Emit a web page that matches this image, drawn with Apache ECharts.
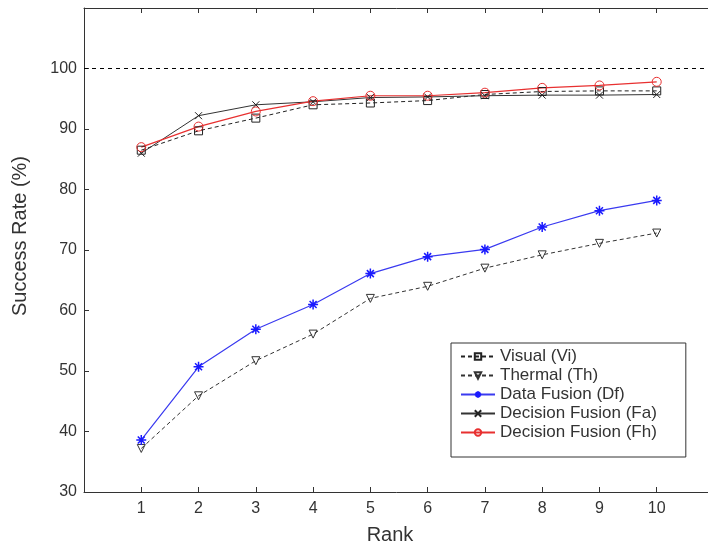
<!DOCTYPE html>
<html><head><meta charset="utf-8">
<script src="https://cdn.jsdelivr.net/npm/echarts@6/dist/echarts.min.js"></script>
<style>html,body{margin:0;padding:0;background:#fff}#c{width:708px;height:548px}</style>
</head><body><div id="c"></div>
<script>
const ranks = [1, 2, 3, 4, 5, 6, 7, 8, 9, 10];
const visual = [86.5, 89.7, 91.8, 94.0, 94.3, 94.7, 95.7, 96.2, 96.3, 96.3];
const thermal = [37.2, 45.9, 51.7, 56.1, 62.0, 64.0, 67.0, 69.2, 71.1, 72.8];
const dataFusion = [38.6, 50.7, 56.9, 61.0, 66.1, 68.9, 70.1, 73.8, 76.5, 78.2];
const decisionFa = [86.0, 92.2, 94.0, 94.5, 95.2, 95.3, 95.5, 95.6, 95.6, 95.7];
const decisionFh = [87.0, 90.4, 92.9, 94.6, 95.5, 95.5, 96.0, 96.8, 97.2, 97.8];
const yTickLabels = [30, 40, 50, 60, 70, 80, 90, 100];
const names = ['Visual (Vi)', 'Thermal (Th)', 'Data Fusion (Df)', 'Decision Fusion (Fa)', 'Decision Fusion (Fh)'];
const refLine = 100;

const font = 'Liberation Sans, Arial, sans-serif';
const axisCol = '#333';
const pts = arr => ranks.map((r, i) => [r, arr[i]]);
const STAR = 'path://M0,-10L0,10M-10,0L10,0M-7,-7L7,7M-7,7L7,-7';
const CROSS = 'path://M-10,-10L10,10M-10,10L10,-10';

function baseAxis(extra) {
  return Object.assign({
    axisLine: {show: true, onZero: false, lineStyle: {color: axisCol, width: 1}},
    axisTick: {show: true, inside: true, length: 5, lineStyle: {color: axisCol}},
    splitLine: {show: false}
  }, extra);
}

const chart = echarts.init(document.getElementById('c'), null, {renderer: 'canvas'});
chart.setOption({
  backgroundColor: '#fff',
  animation: false,
  grid: {left: 84, top: 8, width: 630, height: 484, containLabel: false, outerBoundsMode: 'none'},
  legend: {
    orient: 'vertical', left: 451, top: 343,
    itemWidth: 34, itemHeight: 8, itemGap: 2,
    padding: [5, 29, 16, 9],
    backgroundColor: '#fff', borderColor: '#333', borderWidth: 1,
    textStyle: {fontFamily: font, fontSize: 17, lineHeight: 17, color: '#333'},
    data: names
  },
  xAxis: [
    baseAxis({type: 'value', min: 0, max: 11, interval: 1, position: 'bottom',
      axisLabel: {formatter: v => ranks.includes(v) ? String(v) : '', color: '#333', fontSize: 16, fontFamily: font, margin: 9},
      name: 'Rank', nameLocation: 'middle', nameGap: 33,
      nameTextStyle: {fontFamily: font, fontSize: 20, color: '#333', padding: [0, 18, 0, 0]}}),
    baseAxis({type: 'value', min: 0, max: 11, interval: 1, position: 'top', axisLabel: {show: false}})
  ],
  yAxis: [
    baseAxis({type: 'value', min: 30, max: 110, interval: 10, position: 'left',
      axisLabel: {formatter: v => yTickLabels.includes(v) ? String(v) : '', color: '#333', fontSize: 16, fontFamily: font, margin: 7},
      name: 'Success Rate (%)', nameLocation: 'middle', nameGap: 54,
      nameTextStyle: {fontFamily: font, fontSize: 20, color: '#333', padding: [0, 0, 0, 28]}}),
    baseAxis({type: 'value', min: 30, max: 110, interval: 10, position: 'right', axisLabel: {show: false}})
  ],
  series: [
    {name: names[0], type: 'line', data: pts(visual), symbol: 'rect', symbolSize: 8,
      itemStyle: {color: 'none', borderColor: '#222', borderWidth: 1},
      lineStyle: {color: '#222', width: 1, type: [4, 3]},
      markLine: {silent: true, symbol: 'none', label: {show: false},
        lineStyle: {color: '#000', width: 1, type: [4, 4]}, data: [{yAxis: refLine}]}},
    {name: names[1], type: 'line', data: pts(thermal), symbol: 'triangle', symbolRotate: 180, symbolSize: 8,
      itemStyle: {color: 'none', borderColor: '#333', borderWidth: 1},
      lineStyle: {color: '#333', width: 1, type: [4, 3]}},
    {name: names[2], type: 'line', data: pts(dataFusion), symbol: STAR, symbolSize: 10,
      itemStyle: {color: 'none', borderColor: '#1a1aff', borderWidth: 1.5},
      lineStyle: {color: '#3a3af0', width: 1.2}},
    {name: names[3], type: 'line', data: pts(decisionFa), symbol: CROSS, symbolSize: 7,
      itemStyle: {color: 'none', borderColor: '#222', borderWidth: 1},
      lineStyle: {color: '#333', width: 1}},
    {name: names[4], type: 'line', data: pts(decisionFh), symbol: 'circle', symbolSize: 9,
      itemStyle: {color: 'none', borderColor: '#e83030', borderWidth: 1},
      lineStyle: {color: '#e83030', width: 1.2}}
  ]
});
</script></body></html>
